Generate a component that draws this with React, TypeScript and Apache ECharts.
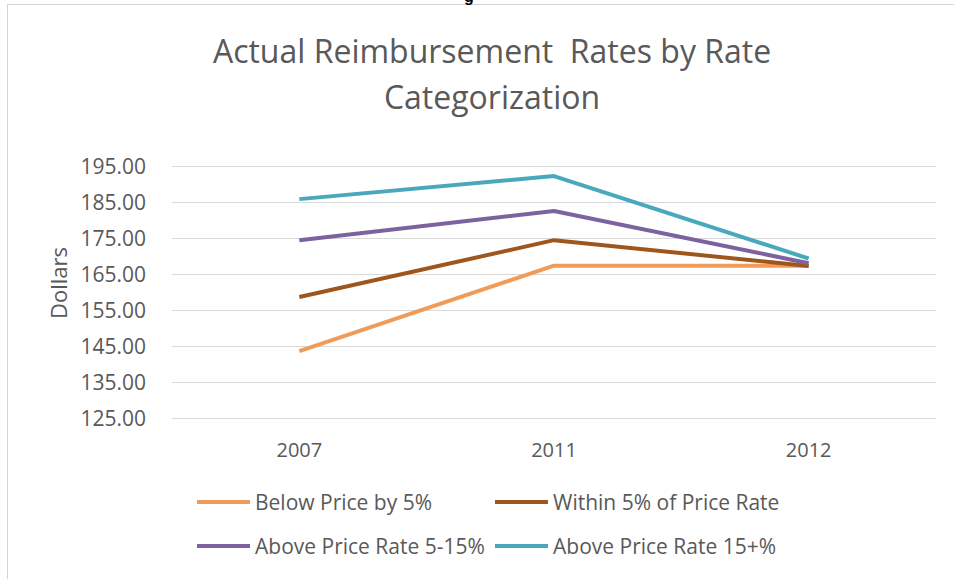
import React, { useEffect, useRef } from "react";
import * as echarts from "echarts";

const years = ["2007", "2011", "2012"];
const belowPrice5 = [143.6, 167.3, 167.3];
const within5 = [158.6, 174.4, 167.2];
const above5to15 = [174.4, 182.5, 168.0];
const above15plus = [185.8, 192.2, 169.3];
const seriesNames = [
  "Below Price by 5%",
  "Within 5% of Price Rate",
  "Above Price Rate 5-15%",
  "Above Price Rate 15+%",
];
const seriesColors = ["#F09C58", "#9E561C", "#7D62A0", "#4AA8BC"];
const titleLines = ["Actual Reimbursement  Rates by Rate", "Categorization"];
const yAxisName = "Dollars";

const FONT = "'Open Sans', sans-serif";
const TXT = "#595959";

export default function App() {
  const ref = useRef<HTMLDivElement>(null);
  useEffect(() => {
    if (!ref.current) return;
    const chart = echarts.init(ref.current, undefined, { renderer: "svg" });
    const dataSets = [belowPrice5, within5, above5to15, above15plus];
    const legendPos = [
      { left: 197, top: 490 },
      { left: 495, top: 490 },
      { left: 197, top: 534 },
      { left: 495, top: 534 },
    ];
    chart.setOption({
      animation: false,
      backgroundColor: "#ffffff",
      textStyle: { fontFamily: FONT },
      grid: { left: 172, right: 18, top: 166, bottom: 161 },
      xAxis: {
        type: "category",
        data: years,
        boundaryGap: true,
        axisLine: { show: false },
        axisTick: { show: false },
        axisLabel: { color: TXT, fontSize: 20, fontFamily: FONT, margin: 21 },
      },
      yAxis: {
        type: "value",
        min: 125,
        max: 195,
        interval: 10,
        axisLine: { show: false },
        axisTick: { show: false },
        splitLine: { lineStyle: { color: "#D9D9D9", width: 1 } },
        axisLabel: {
          color: TXT,
          fontSize: 21,
          fontFamily: FONT,
          margin: 26,
          formatter: (v: number) => v.toFixed(2),
        },
      },
      legend: seriesNames.map((n, i) => ({
        data: [n],
        left: legendPos[i].left,
        top: legendPos[i].top,
        padding: 0,
        icon: "rect",
        itemWidth: 53,
        itemHeight: 4,
        textStyle: { color: TXT, fontSize: 21, fontFamily: FONT, lineHeight: 24 },
      })),
      graphic: [
        {
          type: "rect",
          shape: { x: 7.5, y: 4.5, width: 1200, height: 1200 },
          style: { fill: "none", stroke: "#D4D4D4", lineWidth: 1 },
          silent: true,
        },
        {
          type: "text",
          x: 469,
          y: 4,
          style: {
            text: "g",
            fill: "#000",
            font: "bold 16px 'Liberation Sans'",
            textAlign: "center",
            textVerticalAlign: "bottom",
          },
        },
        {
          type: "text",
          x: 58,
          y: 283,
          rotation: Math.PI / 2,
          style: {
            text: yAxisName,
            fill: TXT,
            font: `22px ${FONT}`,
            textAlign: "center",
            textVerticalAlign: "middle",
          },
        },
        ...titleLines.map((t, i) => ({
          type: "text",
          x: 492,
          y: 50 + i * 46,
          style: {
            text: t,
            fill: TXT,
            font: `32px ${FONT}`,
            textAlign: "center",
            textVerticalAlign: "middle",
          },
        })),
      ],
      series: seriesNames.map((n, i) => ({
        name: n,
        type: "line",
        data: dataSets[i],
        symbol: "none",
        lineStyle: { width: 4, color: seriesColors[i] },
        itemStyle: { color: seriesColors[i] },
      })),
    });
    return () => chart.dispose();
  }, []);
  return (
    <div
      ref={ref}
      style={{ position: "fixed", left: 0, top: 0, width: 954, height: 579 }}
    />
  );
}
